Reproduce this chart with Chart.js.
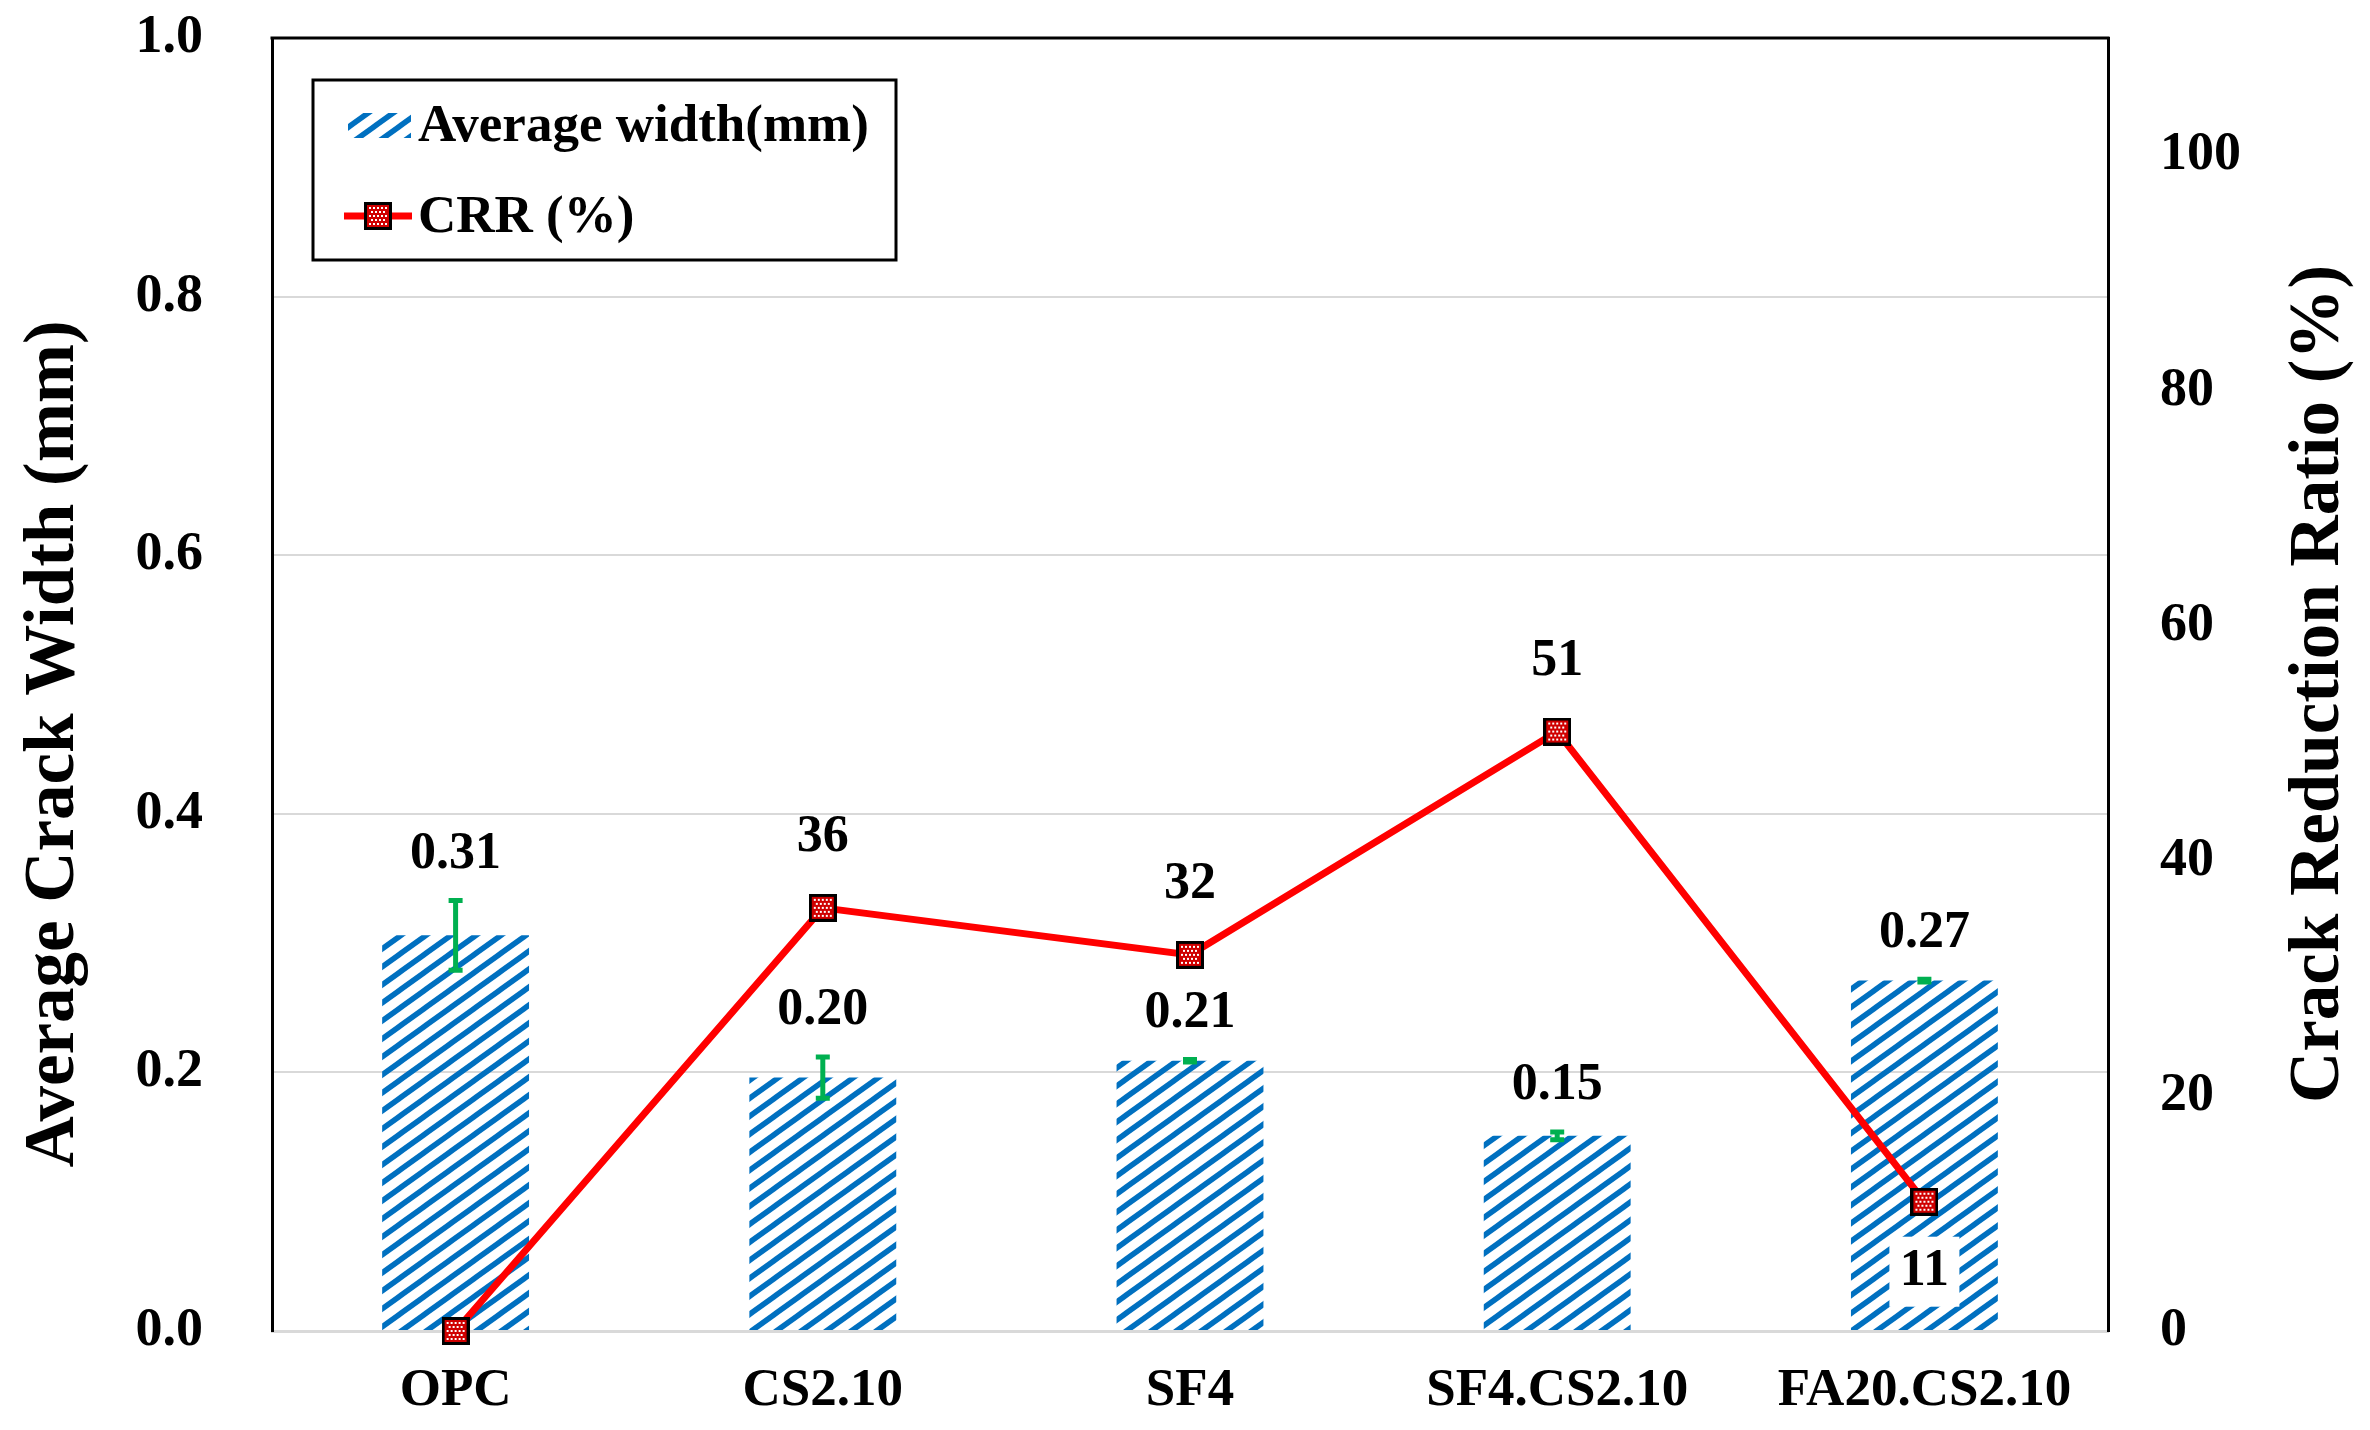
<!DOCTYPE html>
<html>
<head>
<meta charset="utf-8">
<script src="https://cdn.jsdelivr.net/npm/chart.js@4.4.1/dist/chart.umd.min.js"></script>
<style>
  html, body { margin: 0; padding: 0; background: #fff; }
  #chart { display: block; }
</style>
</head>
<body>
<canvas id="chart" width="2370" height="1430"></canvas>
<script>
// data
const categories = ['OPC', 'CS2.10', 'SF4', 'SF4.CS2.10', 'FA20.CS2.10'];
const avgWidth = [0.306, 0.196, 0.209, 0.151, 0.271];
const widthErr = [0.027, 0.016, 0.001, 0.003, 0.001];
const crr = [0, 36, 32, 51, 11];
const leftTicks = [0, 0.2, 0.4, 0.6, 0.8, 1.0];
const rightTicks = [0, 20, 40, 60, 80, 100];

const FONT = "'Liberation Serif', 'Times New Roman', serif";
const canvas = document.getElementById('chart');
const ctx = canvas.getContext('2d');

// blue diagonal hatch like the excel fill
function makeHatch() {
	const w = 25, h = 18;
	const c = document.createElement('canvas');
	c.width = w; c.height = h;
	const g = c.getContext('2d');
	g.strokeStyle = '#0070C0';
	g.lineWidth = 5.5;
	for (let k = -2; k <= 2; k++) {
		g.beginPath();
		g.moveTo(k * w - w, 2 * h);
		g.lineTo(k * w + 2 * w, -h);
		g.stroke();
	}
	return ctx.createPattern(c, 'repeat');
}

// red square marker with white dots
function makeMarker(size) {
	const c = document.createElement('canvas');
	c.width = size; c.height = size;
	const g = c.getContext('2d');
	g.fillStyle = '#000';
	g.fillRect(0, 0, size, size);
	g.fillStyle = '#D00000';
	g.fillRect(3, 3, size - 6, size - 6);
	g.fillStyle = '#fff';
	let row = 0;
	for (let y = 5; y < size - 5; y += 4) {
		for (let x = 5 + (row % 2) * 2; x < size - 5; x += 4) {
			g.fillRect(x, y, 2, 2);
		}
		row++;
	}
	return c;
}

const hatch = makeHatch();
const marker = makeMarker(28);

const errorBars = {
	id: 'errorBars',
	afterDatasetsDraw(chart) {
		const y = chart.scales.y;
		const meta = chart.getDatasetMeta(0);
		const c = chart.ctx;
		c.save();
		c.strokeStyle = '#00B050';
		c.lineWidth = 5;
		meta.data.forEach((bar, i) => {
			const top = y.getPixelForValue(avgWidth[i] + widthErr[i]);
			const bot = y.getPixelForValue(avgWidth[i] - widthErr[i]);
			c.beginPath();
			c.moveTo(bar.x, top); c.lineTo(bar.x, bot);
			c.moveTo(bar.x - 7, top); c.lineTo(bar.x + 7, top);
			c.moveTo(bar.x - 7, bot); c.lineTo(bar.x + 7, bot);
			c.stroke();
		});
		c.restore();
	}
};

const valueLabels = {
	id: 'valueLabels',
	afterDraw(chart) {
		const c = chart.ctx;
		const y = chart.scales.y;
		const bars = chart.getDatasetMeta(0).data;
		const pts = chart.getDatasetMeta(1).data;
		c.save();
		c.font = 'bold 52px ' + FONT;
		c.fillStyle = '#000';
		c.textAlign = 'center';
		c.textBaseline = 'middle';
		bars.forEach((bar, i) => {
			const top = Math.min(bar.y, y.getPixelForValue(avgWidth[i] + widthErr[i]));
			c.fillText(avgWidth[i].toFixed(2), bar.x, top - 46);
		});
		pts.forEach((p, i) => {
			if (crr[i] === 0) return;
			if (p.y > bars[i].y) {
				// marker sits inside the bar: label below on a white box
				const ly = p.y + 70;
				c.fillStyle = '#fff';
				c.fillRect(p.x - 35, ly - 35, 70, 70);
				c.fillStyle = '#000';
				c.fillText(String(crr[i]), p.x, ly);
			} else {
				c.fillText(String(crr[i]), p.x, p.y - 70);
			}
		});

		const a = chart.chartArea;
		// top frame line
		c.strokeStyle = '#000';
		c.lineWidth = 3;
		c.beginPath();
		c.moveTo(a.left - 1.5, a.top);
		c.lineTo(a.right + 1.5, a.top);
		c.stroke();

		// axis titles, both read bottom to top
		c.font = 'bold 71px ' + FONT;
		c.save();
		c.translate(55, 744);
		c.rotate(-Math.PI / 2);
		c.fillText('Average Crack Width (mm)', 0, 0);
		c.restore();
		c.save();
		c.translate(2320, 684);
		c.rotate(-Math.PI / 2);
		c.fillText('Crack Reduction Ratio (%)', 0, 0);
		c.restore();

		// legend box
		c.fillStyle = '#fff';
		c.fillRect(313, 80, 583, 180);
		c.strokeStyle = '#000';
		c.lineWidth = 3;
		c.strokeRect(313, 80, 583, 180);
		c.fillStyle = hatch;
		c.fillRect(348, 113, 63, 25);
		c.strokeStyle = '#FF0000';
		c.lineWidth = 7;
		c.beginPath();
		c.moveTo(344, 216); c.lineTo(412, 216);
		c.stroke();
		c.drawImage(marker, 378 - 14, 216 - 14);
		c.fillStyle = '#000';
		c.textAlign = 'left';
		c.font = 'bold 53px ' + FONT;
		c.fillText('Average width(mm)', 418, 127);
		c.fillText('CRR (%)', 418, 218);
		c.restore();
	}
};

new Chart(canvas, {
	data: {
		labels: categories,
		datasets: [{
			type: 'bar',
			label: 'Average width(mm)',
			data: avgWidth,
			backgroundColor: hatch,
			borderWidth: 0,
			categoryPercentage: 1,
			barPercentage: 0.4,
			yAxisID: 'y',
			order: 2
		}, {
			type: 'line',
			label: 'CRR (%)',
			data: crr,
			borderColor: '#FF0000',
			borderWidth: 7,
			pointStyle: marker,
			pointRadius: 14,
			tension: 0,
			clip: false,
			yAxisID: 'y1',
			order: 1
		}]
	},
	options: {
		responsive: false,
		devicePixelRatio: 1,
		animation: false,
		layout: { padding: { top: 38, left: 0, right: 0, bottom: 0 } },
		plugins: {
			legend: { display: false },
			tooltip: { enabled: false }
		},
		scales: {
			x: {
				grid: { display: false, drawTicks: false },
				border: { display: true, color: '#d9d9d9', width: 3 },
				ticks: { color: '#000', font: { family: FONT, size: 53, weight: 'bold' }, padding: 29, maxRotation: 0 },
				afterFit: s => { s.height = 99; }
			},
			y: {
				position: 'left',
				min: 0, max: 1.0,
				afterBuildTicks: s => { s.ticks = leftTicks.map(v => ({ value: v })); },
				grid: { color: '#d9d9d9', lineWidth: 2, drawTicks: false },
				border: { display: true, color: '#000', width: 3 },
				ticks: {
					color: '#000', padding: 69,
					font: { family: FONT, size: 54, weight: 'bold' },
					callback: v => Number(v).toFixed(1)
				},
				afterFit: s => { s.width = 272; s.paddingTop = 0; s.paddingBottom = 0; }
			},
			y1: {
				position: 'right',
				min: 0, max: 110,
				afterBuildTicks: s => { s.ticks = rightTicks.map(v => ({ value: v })); },
				grid: { display: false, drawTicks: false },
				border: { display: true, color: '#000', width: 3 },
				ticks: {
					color: '#000', padding: 52,
					font: { family: FONT, size: 54, weight: 'bold' }
				},
				afterFit: s => { s.width = 262; s.paddingTop = 0; s.paddingBottom = 0; }
			}
		}
	},
	plugins: [errorBars, valueLabels]
});
</script>
</body>
</html>
